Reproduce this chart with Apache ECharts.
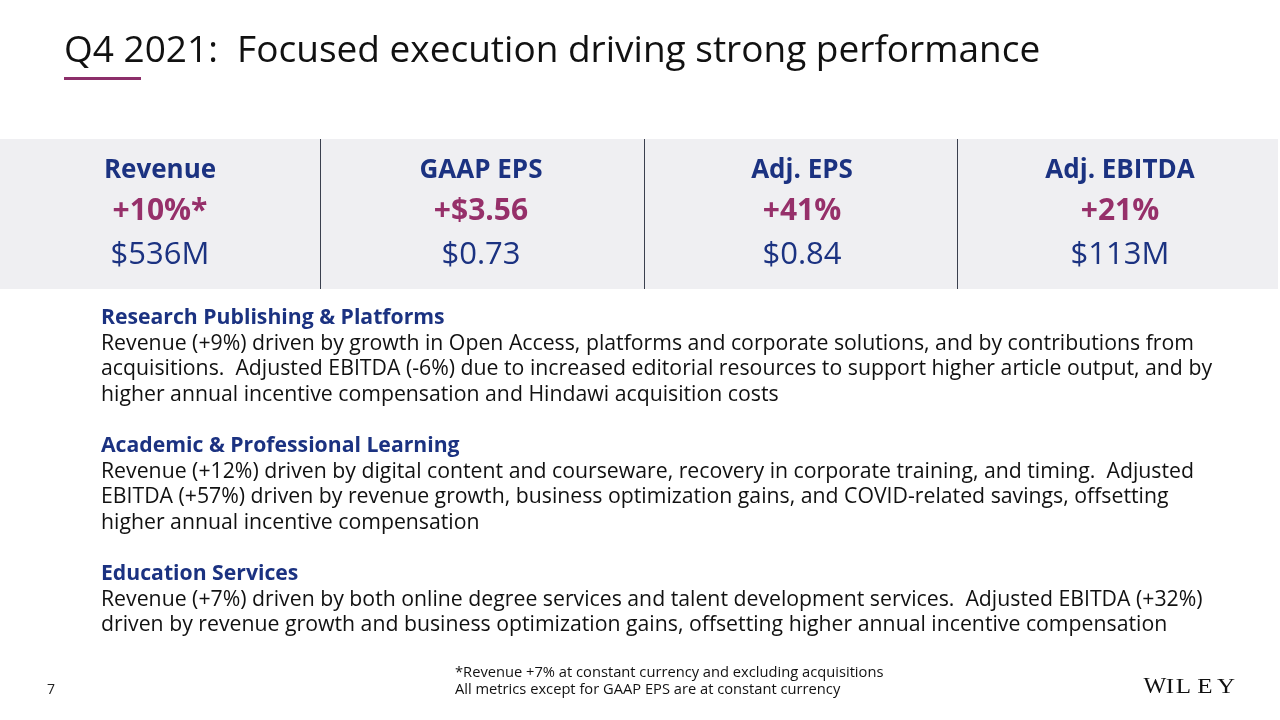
<!DOCTYPE html>
<html>
<head>
<meta charset="utf-8">
<script src="https://cdn.jsdelivr.net/npm/echarts@6/dist/echarts.min.js"></script>
<style>
  html, body { margin: 0; padding: 0; background: #fff; }
  #main { width: 1280px; height: 720px; }
</style>
</head>
<body>
<div id="main"></div>
<script>
// 数据
const metricNames = ['Revenue', 'GAAP EPS', 'Adj. EPS', 'Adj. EBITDA'];
const metricChanges = ['+10%*', '+$3.56', '+41%', '+21%'];
const metricValues = ['$536M', '$0.73', '$0.84', '$113M'];

const segmentTitles = ['Research Publishing & Platforms', 'Academic & Professional Learning', 'Education Services'];
const segmentLines = [
	[
		'Revenue (+9%) driven by growth in Open Access, platforms and corporate solutions, and by contributions from',
		'acquisitions.  Adjusted EBITDA (-6%) due to increased editorial resources to support higher article output, and by',
		'higher annual incentive compensation and Hindawi acquisition costs'
	],
	[
		'Revenue (+12%) driven by digital content and courseware, recovery in corporate training, and timing.  Adjusted',
		'EBITDA (+57%) driven by revenue growth, business optimization gains, and COVID-related savings, offsetting',
		'higher annual incentive compensation'
	],
	[
		'Revenue (+7%) driven by both online degree services and talent development services.  Adjusted EBITDA (+32%)',
		'driven by revenue growth and business optimization gains, offsetting higher annual incentive compensation'
	]
];
const footnotes = [
	'*Revenue +7% at constant currency and excluding acquisitions',
	'All metrics except for GAAP EPS are at constant currency'
];

const navy = '#1b3281';
const plum = '#96306a';
const font = '"Open Sans", "Noto Sans", sans-serif';
const serif = '"Liberation Serif", "DejaVu Serif", serif';

(function () {
	let myChart = echarts.init(document.getElementById('main'));
	const colCenters = [160, 481, 802, 1120];
	const dividers = [320.5, 644.5, 957.5];

	const elements = [];
	// 标题
	elements.push({
		type: 'text', left: 64, top: 33,
		style: { text: 'Q4 2021:  Focused execution driving strong performance', fill: '#111', font: '37px ' + font }
	});
	elements.push({
		type: 'rect', shape: { x: 64, y: 77, width: 77, height: 3 }, style: { fill: '#8c2f6a' }
	});
	// 灰色带
	elements.push({
		type: 'rect', shape: { x: 0, y: 139, width: 1278, height: 150 }, style: { fill: '#efeff2' }
	});
	dividers.forEach(function (x) {
		elements.push({
			type: 'line', shape: { x1: x, y1: 139, x2: x, y2: 289 }, style: { stroke: '#3a3f4e', lineWidth: 1 }
		});
	});
	metricNames.forEach(function (name, i) {
		const cx = colCenters[i];
		elements.push({
			type: 'text', x: cx, y: 171,
			style: { text: name, fill: navy, font: 'bold 26px ' + font, align: 'center', verticalAlign: 'middle' }
		});
		elements.push({
			type: 'text', x: cx, y: 211,
			style: { text: metricChanges[i], fill: plum, font: 'bold 30px ' + font, align: 'center', verticalAlign: 'middle' }
		});
		elements.push({
			type: 'text', x: cx, y: 255,
			style: { text: metricValues[i], fill: navy, font: '31px ' + font, align: 'center', verticalAlign: 'middle' }
		});
	});
	// 分部说明
	const blockTops = [318, 446, 574];
	const lineH = 25.6;
	segmentTitles.forEach(function (t, i) {
		const y0 = blockTops[i];
		elements.push({
			type: 'text', x: 101, y: y0,
			style: { text: t, fill: navy, font: 'bold 21.2px ' + font, verticalAlign: 'middle' }
		});
		segmentLines[i].forEach(function (line, j) {
			elements.push({
				type: 'text', x: 101, y: y0 + lineH * (j + 1),
				style: { text: line, fill: '#111', font: '21.25px ' + font, verticalAlign: 'middle' }
			});
		});
	});
	// 页脚
	elements.push({
		type: 'text', x: 47, y: 690,
		style: { text: '7', fill: '#222', font: '14px ' + font, verticalAlign: 'middle' }
	});
	footnotes.forEach(function (f, i) {
		elements.push({
			type: 'text', x: 455, y: 673 + i * 17,
			style: { text: f, fill: '#111', font: '14.7px ' + font, verticalAlign: 'middle' }
		});
	});
	// WILEY 小型大写字母
	const logo = [['W', 1155, 23], ['I', 1170, 20], ['L', 1183.5, 20], ['E', 1205, 20], ['Y', 1226, 20]];
	logo.forEach(function (l) {
		elements.push({
			type: 'text', x: l[1], y: 698, scaleX: l[0] === 'W' ? 1.05 : 1.25,
			style: { text: l[0], fill: '#111', font: l[2] + 'px ' + serif, align: 'center', verticalAlign: 'bottom' }
		});
	});

	const option = {
		animation: false,
		backgroundColor: '#fff',
		graphic: { elements: elements }
	};
	myChart.setOption(option);
	window.addEventListener('resize', function () {
		myChart.resize();
	});
})();
</script>
</body>
</html>
